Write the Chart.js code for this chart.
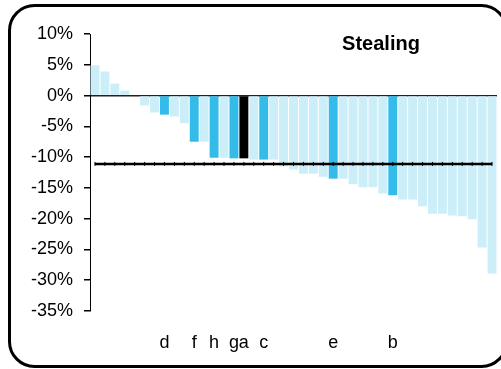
<!DOCTYPE html>
<html>
<head>
<meta charset="utf-8">
<script src="https://cdn.jsdelivr.net/npm/chart.js@4/dist/chart.umd.min.js"></script>
<style>
  html, body { margin: 0; padding: 0; background: #fff; overflow: hidden; }
  canvas { display: block; }
</style>
</head>
<body>
<canvas id="chart" width="501" height="369"></canvas>
<script>
// one bar per unit, sorted from highest to lowest change
const labels = ['', '', '', '', '', '', '', 'd', '', '', 'f', '', 'h', '', 'g', 'a', '', 'c', '', '',
  '', '', '', '', 'e', '', '', '', '', '', 'b', '', '', '', '', '', '', '', '', '', ''];
const values = [4.9, 3.9, 1.95, 0.8, 0, -1.6, -2.75, -3.1, -3.4, -4.5,
  -7.5, -7.5, -10.1, -10.1, -10.2, -10.2, -10.4, -10.4, -10.4, -11.5,
  -12.0, -12.7, -12.7, -13.2, -13.5, -13.5, -14.4, -14.9, -14.9, -15.9,
  -16.2, -16.9, -16.9, -18.0, -19.2, -19.2, -19.5, -19.6, -20.1, -24.7, -28.9];
const average = -11.1;
const yTicks = [10, 5, 0, -5, -10, -15, -20, -25, -30, -35];

const LIGHT = '#cceef9';
const DARK = '#33bbea';
const barColors = labels.map(l => l === 'a' ? '#000000' : (l ? DARK : LIGHT));

// rounded frame and the title in the top right corner
const decorPlugin = {
  id: 'decor',
  afterDraw(chart) {
    const ctx = chart.ctx;
    ctx.save();
    ctx.strokeStyle = '#000';
    ctx.lineWidth = 3;
    ctx.beginPath();
    ctx.roundRect(9.5, 5.5, 497, 361, 25);
    ctx.stroke();
    ctx.font = 'bold 20px "Liberation Sans", Arial, sans-serif';
    ctx.fillStyle = '#000';
    ctx.textAlign = 'center';
    ctx.textBaseline = 'alphabetic';
    ctx.fillText('Stealing', 381, 50);
    ctx.restore();
  }
};

new Chart(document.getElementById('chart'), {
  type: 'bar',
  data: {
    labels: labels,
    datasets: [{
      type: 'line',
      data: labels.map(() => average),
      borderColor: '#000',
      borderWidth: 2.5,
      pointStyle: 'line',
      rotation: 90,
      pointRadius: 2,
      pointBorderWidth: 1,
      pointBorderColor: '#000',
      order: 0,
    }, {
      data: values,
      backgroundColor: barColors,
      barPercentage: 0.9,
      categoryPercentage: 1,
      order: 1,
    }],
  },
  options: {
    responsive: false,
    animation: false,
    devicePixelRatio: 1,
    layout: { autoPadding: false, padding: { top: 34, right: 4, left: 0, bottom: 0 } },
    plugins: {
      legend: { display: false },
      tooltip: { enabled: false },
    },
    scales: {
      x: {
        grid: { display: false, drawTicks: false },
        border: { display: false },
        ticks: {
          autoSkip: false,
          maxRotation: 0,
          padding: 21,
          color: '#000',
          font: { family: '"Liberation Sans", Arial, sans-serif', size: 18 },
        },
        afterFit(scale) {
          scale.height = 58;
          scale.paddingLeft = 0;
          scale.paddingRight = 0;
        },
      },
      y: {
        min: -35,
        max: 10,
        afterBuildTicks(scale) { scale.ticks = yTicks.map(v => ({ value: v })); },
        grid: {
          color: ctx => ctx.tick && ctx.tick.value === 0 ? '#222' : 'rgba(0,0,0,0)',
          tickColor: '#000',
          tickLength: 6,
          lineWidth: 1.5,
        },
        border: { display: true, color: '#000', width: 1 },
        ticks: {
          padding: 11,
          color: '#000',
          font: { family: '"Liberation Sans", Arial, sans-serif', size: 18 },
          callback: v => v + '%',
        },
        afterFit(scale) { scale.width = 90; },
      },
    },
  },
  plugins: [decorPlugin],
});
</script>
</body>
</html>
